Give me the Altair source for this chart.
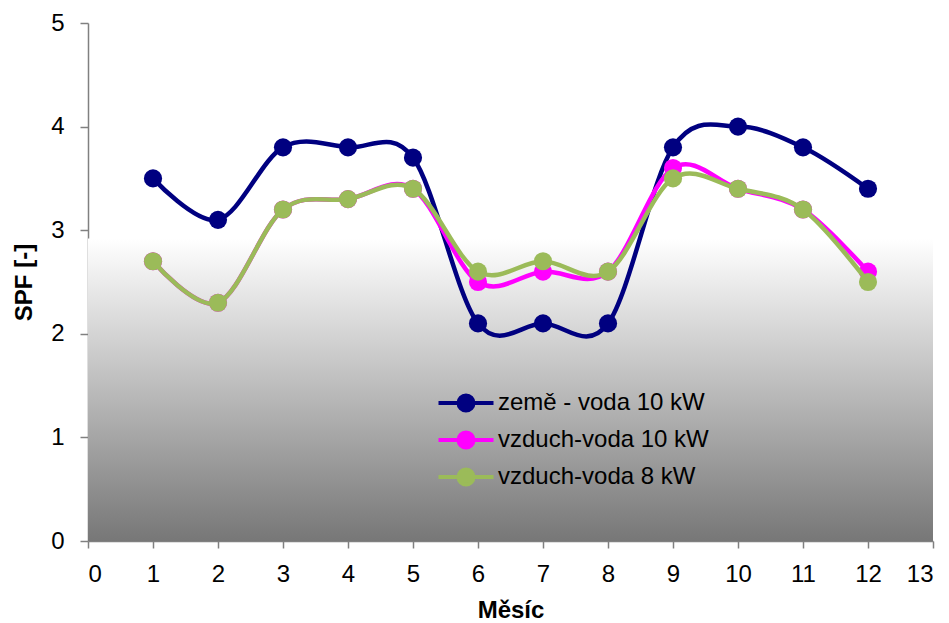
import altair as alt
import pandas as pd

months = list(range(1, 13))
series_names = ["země - voda 10 kW", "vzduch-voda 10 kW", "vzduch-voda 8 kW"]
zeme_voda_10 = [3.5, 3.1, 3.8, 3.8, 3.7, 2.1, 2.1, 2.1, 3.8, 4.0, 3.8, 3.4]
vzduch_voda_10 = [2.7, 2.3, 3.2, 3.3, 3.4, 2.5, 2.6, 2.6, 3.6, 3.4, 3.2, 2.6]
vzduch_voda_8 = [2.7, 2.3, 3.2, 3.3, 3.4, 2.6, 2.7, 2.6, 3.5, 3.4, 3.2, 2.5]
series_colors = ["#000080", "#FF00FF", "#9BBB59"]
x_ticks = list(range(0, 14))
y_ticks = [0, 1, 2, 3, 4, 5]
band_top = 2.92

FONT = "Liberation Sans"

band = pd.DataFrame({"x": [0], "x2": [13], "y": [band_top], "y2": [0]})
bg = alt.Chart(band).mark_rect(
    color=alt.LinearGradient(
        gradient="linear",
        stops=[alt.GradientStop(color="#ffffff", offset=0),
               alt.GradientStop(color="#777777", offset=1)],
        x1=0, x2=0, y1=0, y2=1,
    )
).encode(
    x=alt.X("x:Q", scale=alt.Scale(domain=[0, 13], nice=False),
            axis=alt.Axis(values=x_ticks, title="Měsíc", tickSize=7, format="d",
                          labelOverlap=False, labelPadding=14, titlePadding=12)),
    x2="x2:Q",
    y=alt.Y("y:Q", scale=alt.Scale(domain=[0, 5], nice=False),
            axis=alt.Axis(values=y_ticks, title="SPF [-]", tickSize=8, format="d",
                          labelOverlap=False, labelPadding=16, titlePadding=14)),
    y2="y2:Q",
)

# line-with-dot legend glyph (unit = 10 px at symbolSize 400)
legend_path = ("M-2.75,0L2.75,0M-0.75,0A0.75,0.75 0 1,0 0.75,0"
               "A0.75,0.75 0 1,0 -0.75,0Z")

color_scale = alt.Scale(domain=series_names, range=series_colors)

layers = [bg]
for name, vals in zip(series_names, [zeme_voda_10, vzduch_voda_10, vzduch_voda_8]):
    df = pd.DataFrame({"month": months, "spf": vals, "series": [name] * len(months)})
    base = alt.Chart(df).encode(
        x=alt.X("month:Q"),
        y=alt.Y("spf:Q"),
        color=alt.Color(
            "series:N", scale=color_scale, sort=series_names,
            legend=alt.Legend(
                title=None, orient="none", legendX=366, legendY=368,
                symbolType=legend_path, symbolSize=400, symbolStrokeWidth=4,
                labelFontSize=24, labelFont=FONT, labelColor="#000000",
                labelOffset=20, rowPadding=5, padding=0, labelLimit=400,
                symbolOpacity=1,
            ),
        ),
    )
    line = base.mark_line(interpolate="cardinal", strokeWidth=4.5)
    pts = base.mark_point(filled=True, size=330, opacity=1)
    layers += [line, pts]

chart = alt.layer(*layers).properties(
    width=845, height=518,
    autosize=alt.AutoSizeParams(type="none"),
    padding={"left": 88, "top": 23, "right": 16, "bottom": 82},
).configure_view(stroke=None).configure_axis(
    grid=False,
    domainColor="#808080", domainWidth=1.5,
    tickColor="#808080", tickWidth=1.5,
    labelFont=FONT, labelFontSize=24, labelColor="#000000",
    titleFont=FONT, titleFontSize=24, titleFontWeight="bold", titleColor="#000000",
)

chart.save("out.html", embed_options={"renderer": "svg", "actions": False})
